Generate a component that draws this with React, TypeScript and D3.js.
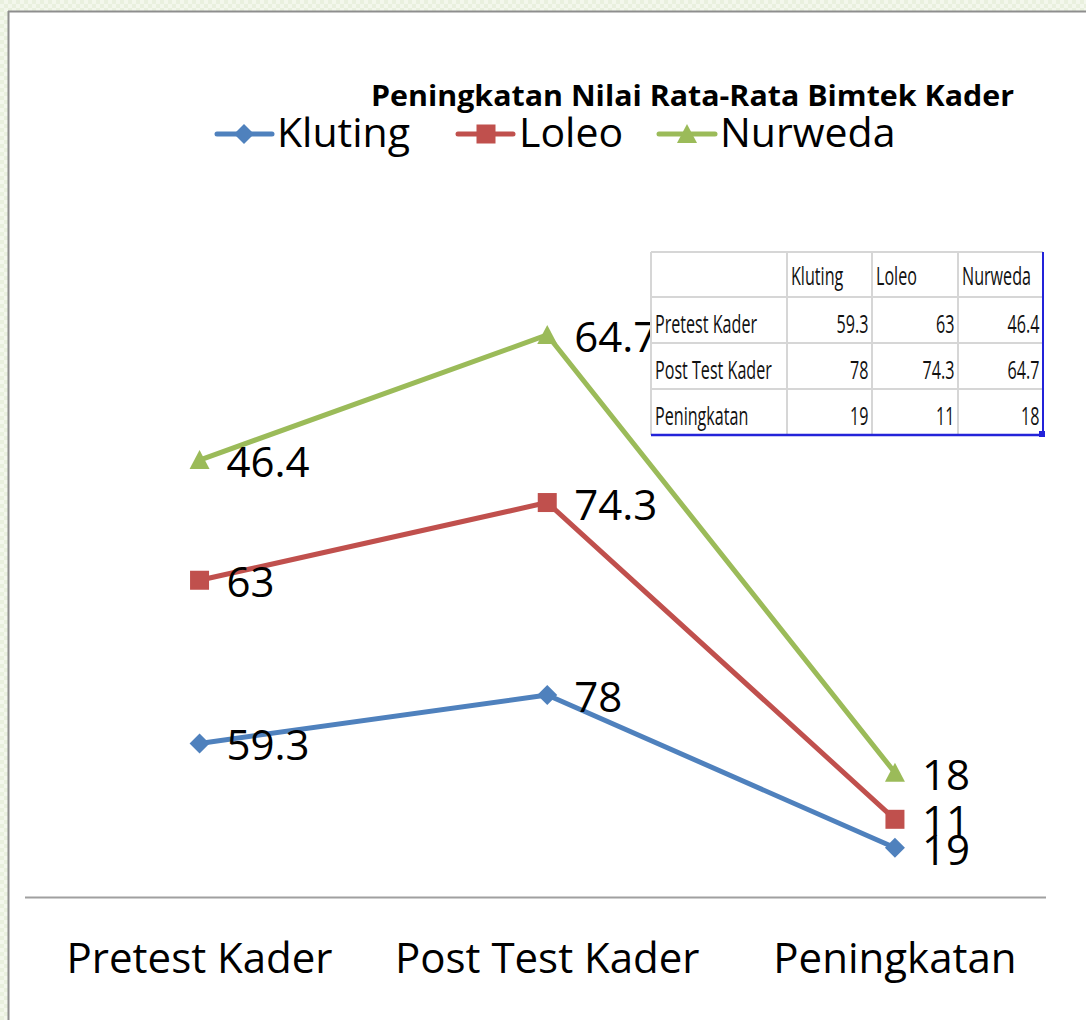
import React from "react";
import * as d3 from "d3";

const categories = ["Pretest Kader", "Post Test Kader", "Peningkatan"];
const seriesNames = ["Kluting", "Loleo", "Nurweda"];
const klutingValues = [59.3, 78, 19];
const loleoValues = [63, 74.3, 11];
const nurwedaValues = [46.4, 64.7, 18];
const seriesColors = ["#4F81BD", "#C0504D", "#9BBB59"];
const chartTitle = "Peningkatan Nilai Rata-Rata Bimtek Kader";
const tableValueLabels = [
  ["59.3", "63", "46.4"],
  ["78", "74.3", "64.7"],
  ["19", "11", "18"],
];

const W = 1086;
const H = 1020;
const FONT = "'Open Sans', 'Noto Sans', sans-serif";

function Marker({ kind, x, y, color }: { kind: number; x: number; y: number; color: string }) {
  if (kind === 0) {
    const r = 10;
    return <path d={`M${x},${y - r}L${x + r},${y}L${x},${y + r}L${x - r},${y}Z`} fill={color} />;
  }
  if (kind === 1) {
    const s = 9.5;
    return <rect x={x - s} y={y - s} width={2 * s} height={2 * s} fill={color} />;
  }
  return <path d={`M${x},${y - 10}L${x + 10},${y + 9}L${x - 10},${y + 9}Z`} fill={color} />;
}

export default function App() {
  const rows = categories.map((c, i) => ({
    cat: c,
    Kluting: klutingValues[i],
    Loleo: loleoValues[i],
    Nurweda: nurwedaValues[i],
  }));
  const stacked = d3.stack<any>().keys(seriesNames)(rows);
  const raw = [klutingValues, loleoValues, nurwedaValues];

  const x = d3.scalePoint<string>().domain(categories).range([25.7, 1068.8]).padding(0.5);
  const y = d3.scaleLinear().domain([0, 250]).range([897, 249.5]);

  const line = d3
    .line<any>()
    .x((d) => x(d.data.cat) as number)
    .y((d) => y(d[1]));

  // legend layout
  const legend = [
    { lx1: 217, lx2: 272, mx: 244, tx: 277 },
    { lx1: 458, lx2: 513, mx: 486, tx: 519 },
    { lx1: 659, lx2: 715, mx: 687, tx: 720 },
  ];

  // table layout
  const colEdges = [651, 787, 872, 958, 1043];
  const rowEdges = [252, 297, 343, 389, 435];
  const rowBaselines = [333, 378.5, 425];
  const sx = 0.62;

  return (
    <svg
      width={W}
      height={H}
      style={{ position: "absolute", left: 0, top: 0, display: "block" }}
      xmlns="http://www.w3.org/2000/svg"
    >
      <defs>
        <pattern id="tex" width="8" height="8" patternUnits="userSpaceOnUse">
          <rect width="8" height="8" fill="#f3f7ec" />
          <rect width="4" height="4" fill="#e9f0de" />
          <rect x="4" y="4" width="4" height="4" fill="#e9f0de" />
        </pattern>
      </defs>
      <rect width={W} height={H} fill="url(#tex)" />
      <rect x={9} y={12} width={W} height={H} fill="#ffffff" />
      <line x1={8.5} y1={11} x2={8.5} y2={H} stroke="#8e8e8e" strokeWidth={2} />
      <line x1={8} y1={11.5} x2={W} y2={11.5} stroke="#8e8e8e" strokeWidth={2} />

      {/* title */}
      <text
        x={371}
        y={106}
        fontFamily={FONT}
        fontWeight="bold"
        fontSize={29}
        textLength={643}
        lengthAdjust="spacingAndGlyphs"
        fill="#000"
      >
        {chartTitle}
      </text>

      {/* legend */}
      {seriesNames.map((s, i) => (
        <g key={s}>
          <line
            x1={legend[i].lx1}
            x2={legend[i].lx2}
            y1={134}
            y2={134}
            stroke={seriesColors[i]}
            strokeWidth={5}
            strokeLinecap="round"
          />
          <Marker kind={i} x={legend[i].mx} y={134} color={seriesColors[i]} />
          <text x={legend[i].tx} y={147} fontFamily={FONT} fontSize={41} fill="#000">
            {s}
          </text>
        </g>
      ))}

      {/* axis */}
      <line x1={25} x2={1046} y1={897.5} y2={897.5} stroke="#a0a0a0" strokeWidth={2} />
      {categories.map((c) => (
        <text
          key={c}
          x={x(c) as number}
          y={973}
          textAnchor="middle"
          fontFamily={FONT}
          fontSize={42}
          fill="#000"
        >
          {c}
        </text>
      ))}

      {/* series */}
      {stacked.map((layer, i) => (
        <g key={layer.key}>
          <path
            d={line(layer as any) as string}
            fill="none"
            stroke={seriesColors[i]}
            strokeWidth={5}
            strokeLinejoin="round"
          />
          {layer.map((d: any, j: number) => (
            <Marker key={j} kind={i} x={x(d.data.cat) as number} y={y(d[1])} color={seriesColors[i]} />
          ))}
        </g>
      ))}
      {stacked.map((layer, i) =>
        layer.map((d: any, j: number) => (
          <text
            key={`${i}-${j}`}
            x={(x(d.data.cat) as number) + 27}
            y={y(d[1]) + 17}
            fontFamily={FONT}
            fontSize={42}
            fill="#000"
          >
            {raw[i][j]}
          </text>
        ))
      )}

      {/* data table inset */}
      <g>
        <rect
          x={colEdges[0]}
          y={rowEdges[0]}
          width={colEdges[4] - colEdges[0]}
          height={rowEdges[4] - rowEdges[0]}
          fill="#ffffff"
        />
        {colEdges.slice(0, 4).map((cx, i) => (
          <line key={`c${i}`} x1={cx} x2={cx} y1={rowEdges[0]} y2={rowEdges[4]} stroke="#d6d6d6" strokeWidth={2} />
        ))}
        {rowEdges.slice(0, 4).map((ry, i) => (
          <line key={`r${i}`} x1={colEdges[0]} x2={colEdges[4]} y1={ry} y2={ry} stroke="#d6d6d6" strokeWidth={2} />
        ))}
        <line x1={colEdges[4]} x2={colEdges[4]} y1={rowEdges[0]} y2={rowEdges[4]} stroke="#2323d9" strokeWidth={2} />
        <line x1={colEdges[0]} x2={colEdges[4] + 1} y1={rowEdges[4]} y2={rowEdges[4]} stroke="#2323d9" strokeWidth={2.5} />
        <rect x={colEdges[4] - 4} y={rowEdges[4] - 4} width={6} height={6} fill="#2323d9" />

        {seriesNames.map((s, i) => (
          <text
            key={s}
            transform={`translate(${colEdges[i + 1] + 4},285) scale(${sx},1)`}
            fontFamily={FONT}
            fontSize={26}
            fill="#111"
          >
            {s}
          </text>
        ))}
        {categories.map((c, r) => (
          <g key={c}>
            <text
              transform={`translate(655,${rowBaselines[r]}) scale(${sx},1)`}
              fontFamily={FONT}
              fontSize={26}
              fill="#111"
            >
              {c}
            </text>
            {tableValueLabels[r].map((v, k) => (
              <text
                key={k}
                transform={`translate(${colEdges[k + 2] - 3.5},${rowBaselines[r]}) scale(${sx},1)`}
                textAnchor="end"
                fontFamily={FONT}
                fontSize={26}
                fill="#111"
              >
                {v}
              </text>
            ))}
          </g>
        ))}
      </g>
    </svg>
  );
}
